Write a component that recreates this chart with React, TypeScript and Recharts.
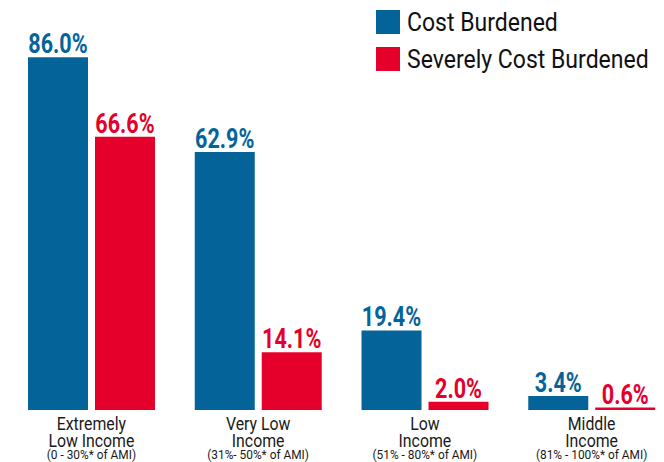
import React from "react";
import { BarChart, Bar, XAxis, YAxis, LabelList, Legend, ReferenceLine } from "recharts";

const categories = ["Extremely Low Income", "Very Low Income", "Low Income", "Middle Income"];
const labelLine1 = ["Extremely", "Very Low", "Low", "Middle"];
const labelLine2 = ["Low Income", "Income", "Income", "Income"];
const amiRanges = ["(0 - 30%* of AMI)", "(31%- 50%* of AMI)", "(51% - 80%* of AMI)", "(81% - 100%* of AMI)"];
const costBurdened = [86.0, 62.9, 19.4, 3.4];
const severelyCostBurdened = [66.6, 14.1, 2.0, 0.6];
const seriesNames = ["Cost Burdened", "Severely Cost Burdened"];

// baseline extent, in category units along the hidden numeric axis
const baselineFrom = 0.1;
const baselineTo = 3.86;

const BLUE = "#04649a";
const RED = "#e5002b";
const FONT = 'Roboto, "DejaVu Sans", sans-serif';

const data = categories.map((c, i) => ({
  category: c,
  cb: costBurdened[i],
  scb: severelyCostBurdened[i],
}));

const fmt = (v: any) => `${Number(v).toFixed(1)}%`;

const makeValueLabel = (color: string) => (props: any) => {
  const vb = props.viewBox || props;
  const x = vb.x ?? props.x;
  const y = vb.y ?? props.y;
  const w = vb.width ?? props.width;
  const cx = x + w / 2;
  return (
    <text
      transform={`translate(${cx},${y - 4}) scale(0.77,1)`}
      textAnchor="middle"
      fill={color}
      fontFamily={FONT}
      fontWeight={700}
      fontSize={28}
    >
      {fmt(props.value)}
    </text>
  );
};

const CategoryTick = (props: any) => {
  const { x, y, payload } = props;
  const i = categories.indexOf(payload.value);
  return (
    <g transform={`translate(${x},${y})`}>
      <text textAnchor="middle" fill="#1a1a1a" fontFamily={FONT} transform="scale(0.88,1)">
        <tspan x={0} y={20} fontSize={18}>{labelLine1[i]}</tspan>
        <tspan x={0} y={37.5} fontSize={18}>{labelLine2[i]}</tspan>
      </text>
      <text textAnchor="middle" fill="#1a1a1a" fontFamily={FONT} transform="scale(0.88,1)">
        <tspan x={0} y={49} fontSize={13.5}>{amiRanges[i]}</tspan>
      </text>
    </g>
  );
};

const LegendContent = (props: any) => {
  const { payload } = props;
  return (
    <div style={{ fontFamily: FONT }}>
      {(payload || []).map((e: any) => (
        <div key={e.value} style={{ display: "flex", alignItems: "center", height: 37 }}>
          <span style={{ width: 24, height: 24, minWidth: 24, background: e.color, marginRight: 7, display: "inline-block" }} />
          <span
            style={{
              fontSize: 25,
              color: "#111",
              lineHeight: "37px",
              whiteSpace: "nowrap",
              display: "inline-block",
              transform: "scaleX(0.92)",
              transformOrigin: "left center",
            }}
          >
            {e.value}
          </span>
        </div>
      ))}
    </div>
  );
};

export default function App() {
  return (
    <div style={{ width: 656, height: 454, overflow: "hidden" }}>
      <BarChart
        width={667}
        height={454}
        data={data}
        margin={{ top: 0, right: 0, bottom: 0, left: 0 }}
        barGap={7}
      >
        <XAxis
          dataKey="category"
          axisLine={false}
          tickLine={false}
          tickSize={0}
          tickMargin={0}
          height={52}
          interval={0}
          tick={<CategoryTick />}
        />
        <XAxis xAxisId="ln" type="number" domain={[0, 4]} hide />
        <YAxis hide domain={[0, 98]} />
        <Legend
          layout="vertical"
          align="center"
          verticalAlign="middle"
          wrapperStyle={{ top: -4.5, left: 368, width: 300 }}
          content={<LegendContent />}
        />
        <Bar dataKey="cb" name={seriesNames[0]} fill={BLUE} barSize={60} isAnimationActive={false}>
          <LabelList dataKey="cb" position="top" content={makeValueLabel(BLUE)} />
        </Bar>
        <Bar dataKey="scb" name={seriesNames[1]} fill={RED} barSize={60} isAnimationActive={false}>
          <LabelList dataKey="scb" position="top" content={makeValueLabel(RED)} />
        </Bar>
        <ReferenceLine
          xAxisId="ln"
          segment={[{ x: baselineFrom, y: 0 }, { x: baselineTo, y: 0 }]}
          stroke="#000"
          strokeWidth={2}
        />
      </BarChart>
    </div>
  );
}
